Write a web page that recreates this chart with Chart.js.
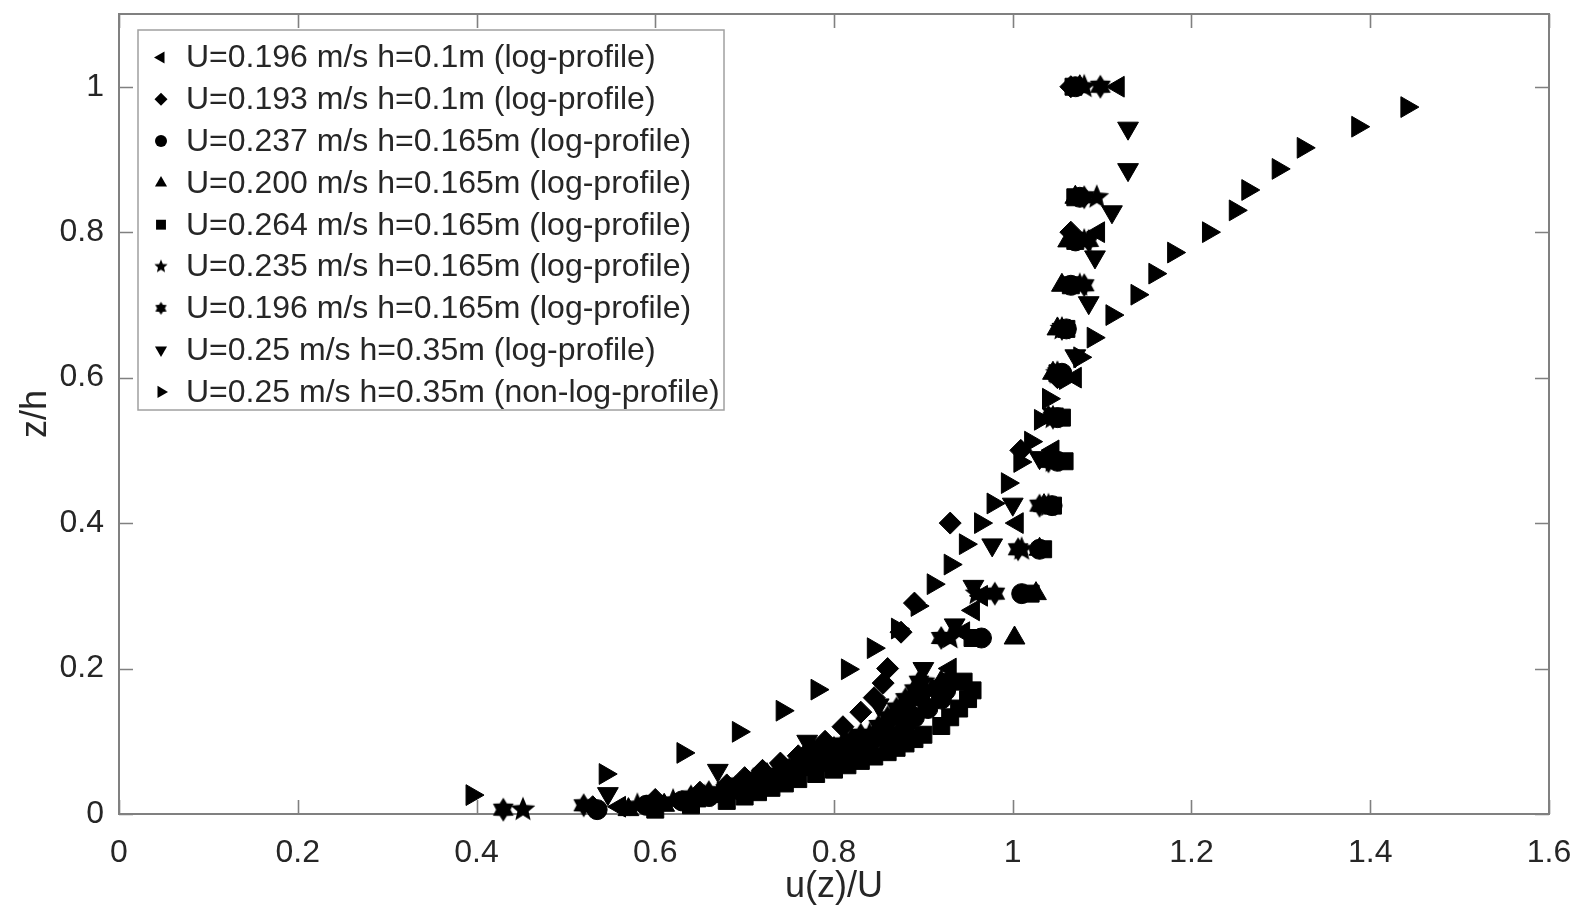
<!DOCTYPE html>
<html>
<head>
<meta charset="utf-8">
<script src="https://cdn.jsdelivr.net/npm/chart.js@4.4.1/dist/chart.umd.min.js"></script>
<style>
html,body{margin:0;padding:0;background:#fff;}
#wrap{width:1577px;height:911px;}
</style>
</head>
<body>
<div id="wrap"><canvas id="c" width="1577" height="911"></canvas></div>
<script>
// ---------- data (u(z)/U on x, z/h on y) ----------
const labels = [
  'U=0.196 m/s h=0.1m (log-profile)',
  'U=0.193 m/s h=0.1m (log-profile)',
  'U=0.237 m/s h=0.165m (log-profile)',
  'U=0.200 m/s h=0.165m (log-profile)',
  'U=0.264 m/s h=0.165m (log-profile)',
  'U=0.235 m/s h=0.165m (log-profile)',
  'U=0.196 m/s h=0.165m (log-profile)',
  'U=0.25 m/s h=0.35m (log-profile)',
  'U=0.25 m/s h=0.35m (non-log-profile)'
];

const xTicks = [0, 0.2, 0.4, 0.6, 0.8, 1, 1.2, 1.4, 1.6];
const yTicks = [0, 0.2, 0.4, 0.6, 0.8, 1];

// U=0.196 h=0.1 (left triangles)
const s1_z = [0.01,0.02,0.03,0.04,0.05,0.06,0.07,0.08,0.09,0.10,0.12,0.14,0.16,0.18,0.20,0.25,0.28,0.30,0.40,0.50,0.60,0.80,1.00];
const s1_u = [0.56,0.64,0.69,0.72,0.74,0.76,0.78,0.80,0.815,0.83,0.86,0.88,0.90,0.92,0.93,0.945,0.956,0.965,1.005,1.045,1.07,1.096,1.118];

// U=0.193 h=0.1 (diamonds)
const s2_z = [0.01,0.02,0.03,0.04,0.05,0.06,0.07,0.08,0.09,0.10,0.12,0.14,0.16,0.18,0.20,0.25,0.29,0.40,0.50,0.60,0.80,1.00];
const s2_u = [0.53,0.60,0.65,0.68,0.70,0.72,0.74,0.76,0.775,0.79,0.81,0.83,0.845,0.855,0.86,0.875,0.89,0.93,1.009,1.05,1.065,1.065];

// U=0.237 (circles), h=0.165
const s3_z = [0.006,0.012,0.018,0.024,0.030,0.036,0.042,0.048,0.055,0.061,0.067,0.073,0.079,0.085,0.091,0.097,0.103,0.109,0.121,0.133,0.145,0.158,0.170,0.182,0.242,0.303,0.364,0.424,0.485,0.545,0.606,0.667,0.727,0.788,0.848,1.0];
const s3_u = [0.535,0.59,0.63,0.66,0.68,0.70,0.715,0.73,0.745,0.76,0.77,0.785,0.80,0.81,0.825,0.84,0.86,0.875,0.88,0.89,0.905,0.92,0.925,0.93,0.965,1.01,1.03,1.044,1.05,1.05,1.055,1.06,1.065,1.07,1.075,1.07];
// U=0.200 (up triangles)
const s4_z = [0.006,0.012,0.018,0.024,0.030,0.036,0.042,0.048,0.055,0.061,0.067,0.073,0.079,0.085,0.091,0.097,0.103,0.109,0.121,0.133,0.145,0.158,0.170,0.182,0.242,0.303,0.364,0.424,0.485,0.545,0.606,0.667,0.727,0.788,0.848,1.0];
const s4_u = [0.57,0.61,0.645,0.67,0.69,0.71,0.725,0.74,0.755,0.77,0.78,0.79,0.80,0.815,0.82,0.83,0.84,0.85,0.86,0.87,0.885,0.90,0.91,0.92,1.002,1.026,1.03,1.035,1.04,1.04,1.045,1.05,1.055,1.062,1.07,1.075];
// U=0.264 (squares)
const s5_z = [0.006,0.012,0.018,0.024,0.030,0.036,0.042,0.048,0.055,0.061,0.067,0.073,0.079,0.085,0.091,0.097,0.103,0.109,0.121,0.133,0.145,0.158,0.170,0.182,0.242,0.303,0.364,0.424,0.485,0.545,0.606,0.667,0.727,0.788,0.848,1.0];
const s5_u = [0.60,0.64,0.68,0.70,0.715,0.73,0.745,0.76,0.78,0.80,0.815,0.83,0.845,0.86,0.87,0.88,0.89,0.90,0.92,0.93,0.94,0.95,0.955,0.945,0.955,1.02,1.034,1.045,1.058,1.055,1.05,1.06,1.065,1.07,1.07,1.068];
// U=0.235 (pentagrams)
const s6_z = [0.006,0.012,0.018,0.024,0.030,0.036,0.042,0.048,0.055,0.061,0.067,0.073,0.079,0.085,0.091,0.097,0.103,0.109,0.121,0.133,0.145,0.158,0.170,0.182,0.242,0.303,0.364,0.424,0.485,0.545,0.606,0.667,0.727,0.788,0.848,1.0];
const s6_u = [0.452,0.58,0.62,0.655,0.675,0.69,0.705,0.72,0.735,0.75,0.76,0.77,0.785,0.80,0.81,0.82,0.83,0.84,0.86,0.87,0.88,0.89,0.895,0.90,0.93,0.96,1.01,1.04,1.045,1.045,1.05,1.055,1.075,1.08,1.094,1.08];
// U=0.196 h=0.165 (hexagrams)
const s7_z = [0.006,0.012,0.018,0.024,0.030,0.036,0.042,0.048,0.055,0.061,0.067,0.073,0.079,0.085,0.091,0.097,0.103,0.109,0.121,0.133,0.145,0.158,0.170,0.182,0.242,0.303,0.364,0.424,0.485,0.545,0.606,0.667,0.727,0.788,0.848,1.0];
const s7_u = [0.43,0.52,0.60,0.64,0.66,0.68,0.695,0.71,0.725,0.74,0.755,0.77,0.78,0.79,0.80,0.81,0.82,0.83,0.85,0.86,0.87,0.88,0.89,0.895,0.92,0.98,1.006,1.03,1.04,1.045,1.05,1.055,1.08,1.085,1.08,1.098];

// U=0.25 h=0.35 log (down triangles)
const s8_z = [0.028,0.06,0.10,0.15,0.20,0.26,0.313,0.37,0.426,0.49,0.55,0.63,0.703,0.766,0.828,0.886,0.943];
const s8_u = [0.547,0.67,0.77,0.85,0.90,0.935,0.956,0.977,1.0,1.03,1.045,1.07,1.085,1.092,1.111,1.129,1.129];

// U=0.25 h=0.35 non-log (right triangles)
const s9_z = [0.026,0.055,0.084,0.113,0.142,0.171,0.199,0.228,0.255,0.286,0.316,0.343,0.371,0.400,0.427,0.455,0.484,0.512,0.542,0.571,0.598,0.628,0.655,0.686,0.714,0.743,0.772,0.800,0.830,0.858,0.887,0.916,0.945,0.972];
const s9_u = [0.395,0.544,0.631,0.693,0.742,0.781,0.815,0.844,0.871,0.893,0.911,0.930,0.947,0.964,0.978,0.994,1.008,1.020,1.031,1.040,1.059,1.075,1.090,1.111,1.139,1.159,1.180,1.219,1.249,1.263,1.297,1.325,1.386,1.441];

const seriesU = [s1_u, s2_u, s3_u, s4_u, s5_u, s6_u, s7_u, s8_u, s9_u];
const seriesZ = [s1_z, s2_z, s3_z, s4_z, s5_z, s6_z, s7_z, s8_z, s9_z];

// ---------- marker styles ----------
function makeStar(n, R, ratio) {
  const s = Math.ceil(2 * R + 2);
  const c = document.createElement('canvas');
  c.width = s; c.height = s;
  const g = c.getContext('2d');
  g.fillStyle = '#000';
  g.beginPath();
  for (let k = 0; k < 2 * n; k++) {
    const r = (k % 2) ? R * ratio : R;
    const a = -Math.PI / 2 + k * Math.PI / n;
    const px = s / 2 + r * Math.cos(a), py = s / 2 + r * Math.sin(a);
    if (k === 0) g.moveTo(px, py); else g.lineTo(px, py);
  }
  g.closePath();
  g.fill();
  return c;
}
const penta = makeStar(5, 13, 0.45);
const hexa = makeStar(6, 12, 0.6);
const pentaSmall = makeStar(5, 7, 0.45);
const hexaSmall = makeStar(6, 6.5, 0.6);

const styles = [
  {ps: 'triangle', rot: -90, r: 12, lps: 'triangle', lr: 7},
  {ps: 'rectRot', rot: 0, r: 11, lps: 'rectRot', lr: 6.5},
  {ps: 'circle', rot: 0, r: 10, lps: 'circle', lr: 6},
  {ps: 'triangle', rot: 0, r: 12, lps: 'triangle', lr: 7},
  {ps: 'rect', rot: 0, r: 12, lps: 'rect', lr: 7},
  {ps: penta, rot: 0, r: 10, lps: pentaSmall, lr: 6},
  {ps: hexa, rot: 0, r: 10, lps: hexaSmall, lr: 6},
  {ps: 'triangle', rot: 180, r: 12, lps: 'triangle', lr: 7},
  {ps: 'triangle', rot: 90, r: 12, lps: 'triangle', lr: 7}
];

const datasets = labels.map((lab, i) => ({
  label: lab,
  data: seriesU[i].map((u, k) => ({x: u, y: seriesZ[i][k]})),
  pointStyle: styles[i].ps,
  pointRotation: styles[i].rot,
  pointRadius: styles[i].r,
  pointHoverRadius: styles[i].r,
  backgroundColor: '#000',
  borderColor: '#000',
  borderWidth: 1,
  showLine: false,
  order: 8 - i,
  clip: false
}));

const FONT = "'Liberation Sans', Arial, Helvetica, sans-serif";
const TEXT = '#262626';
const AXIS = '#808080';

// ---------- plugins ----------
const boxAndTicks = {
  id: 'boxAndTicks',
  beforeDatasetsDraw(chart) {
    const {ctx, chartArea: a, scales: {x, y}} = chart;
    ctx.save();
    ctx.strokeStyle = AXIS;
    ctx.lineWidth = 1.6;
    const tl = 14;
    ctx.beginPath();
    xTicks.forEach(v => {
      const px = Math.round(x.getPixelForValue(v)) + 0.5;
      ctx.moveTo(px, a.bottom); ctx.lineTo(px, a.bottom - tl);
      ctx.moveTo(px, a.top); ctx.lineTo(px, a.top + tl);
    });
    yTicks.forEach(v => {
      const py = Math.round(y.getPixelForValue(v)) + 0.5;
      ctx.moveTo(a.left, py); ctx.lineTo(a.left + tl, py);
      ctx.moveTo(a.right, py); ctx.lineTo(a.right - tl, py);
    });
    ctx.stroke();
    ctx.lineWidth = 2;
    ctx.strokeRect(a.left, a.top, a.right - a.left, a.bottom - a.top);
    ctx.restore();
  }
};

const insideLegend = {
  id: 'insideLegend',
  afterDatasetsDraw(chart) {
    const {ctx} = chart;
    const bx = 138, by = 30, bw = 586, bh = 380;
    ctx.save();
    ctx.fillStyle = '#fff';
    ctx.fillRect(bx, by, bw, bh);
    ctx.strokeStyle = '#a0a0a0';
    ctx.lineWidth = 1.5;
    ctx.strokeRect(bx, by, bw, bh);
    const row0 = 57.5, step = 41.8;
    chart.data.datasets.forEach((ds, i) => {
      const yy = row0 + i * step;
      ctx.fillStyle = '#000';
      ctx.strokeStyle = '#000';
      Chart.helpers.drawPoint(ctx, {
        pointStyle: styles[i].lps,
        rotation: styles[i].rot,
        radius: styles[i].lr,
        borderWidth: 0
      }, 161, yy);
      ctx.fillStyle = TEXT;
      ctx.font = '32px ' + FONT;
      ctx.textAlign = 'left';
      ctx.textBaseline = 'middle';
      ctx.fillText(ds.label, 186, yy + 1);
    });
    ctx.restore();
  }
};

const fmt = v => String(Math.round(v * 10) / 10);
const noPad = s => { s.paddingTop = 0; s.paddingBottom = 0; s.paddingLeft = 0; s.paddingRight = 0; };

new Chart(document.getElementById('c'), {
  type: 'scatter',
  data: {datasets},
  options: {
    responsive: false,
    devicePixelRatio: 1,
    animation: false,
    layout: {autoPadding: false, padding: {left: 0, right: 28, top: 14, bottom: 0}},
    plugins: {legend: {display: false}, tooltip: {enabled: false}},
    scales: {
      x: {
        type: 'linear',
        min: 0, max: 1.6,
        afterBuildTicks: s => { s.ticks = xTicks.map(v => ({value: v})); },
        afterFit: s => { s.height = 97; noPad(s); },
        grid: {display: false, drawTicks: false},
        border: {display: false},
        ticks: {
          font: {family: FONT, size: 32},
          color: TEXT,
          padding: 20,
          maxRotation: 0,
          autoSkip: false,
          callback: fmt
        },
        title: {
          display: true, text: 'u(z)/U',
          font: {family: FONT, size: 36},
          color: TEXT,
          padding: {top: 0, bottom: 2}
        }
      },
      y: {
        type: 'linear',
        min: 0, max: 1.1,
        afterBuildTicks: s => { s.ticks = yTicks.map(v => ({value: v})); },
        afterFit: s => { s.width = 119; noPad(s); },
        grid: {display: false, drawTicks: false},
        border: {display: false},
        ticks: {
          font: {family: FONT, size: 32},
          color: TEXT,
          padding: 15,
          autoSkip: false,
          callback: fmt
        },
        title: {
          display: true, text: 'z/h',
          font: {family: FONT, size: 36},
          color: TEXT,
          padding: {top: 14, bottom: 0}
        }
      }
    }
  },
  plugins: [boxAndTicks, insideLegend]
});
</script>
</body>
</html>
